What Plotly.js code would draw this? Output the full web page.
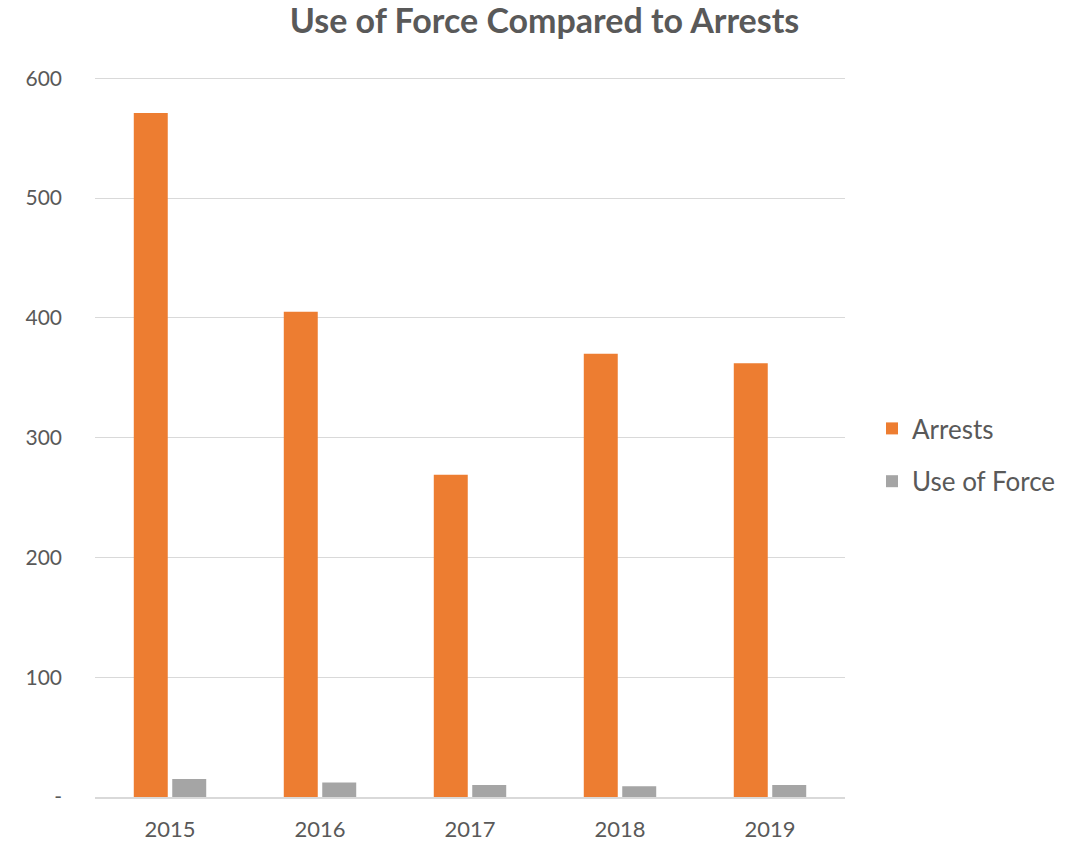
<!DOCTYPE html>
<html>
<head>
<meta charset="utf-8">
<script src="https://cdn.plot.ly/plotly-3.0.1.min.js"></script>
<style>html,body{margin:0;padding:0;background:#fff;}#chart{width:1089px;height:844px;}</style>
</head>
<body>
<div id="chart"></div>
<script>
const years = ['2015', '2016', '2017', '2018', '2019'];
const arrests = [571, 405, 269, 370, 362];
const useOfForce = [15, 12, 10, 9, 10];
const yTickVals = [0, 100, 200, 300, 400, 500, 600];
const yTickText = ['-', '100', '200', '300', '400', '500', '600'];

const font = 'Lato, "Open Sans", sans-serif';
const traces = [
  {type: 'bar', x: years, y: arrests, name: 'Arrests', marker: {color: '#ED7D31'}, legendgroup: 'a', hoverinfo: 'x+y'},
  {type: 'bar', x: years, y: useOfForce, name: 'Use of Force', marker: {color: '#A5A5A5'}, legendgroup: 'b', hoverinfo: 'x+y'}
];
const layout = {
  width: 1089, height: 844,
  margin: {l: 95, r: 244, t: 77, b: 47},
  paper_bgcolor: '#fff', plot_bgcolor: '#fff',
  title: {text: '<b>Use of Force Compared to Arrests</b>', x: 0.5, xanchor: 'center', y: 0.975, yanchor: 'middle',
          font: {family: font, size: 34, color: '#595959'}},
  barmode: 'group', bargap: 0.487, bargroupgap: 0.117,
  xaxis: {type: 'category', showgrid: false, showline: true, linecolor: '#d9d9d9', linewidth: 1.5,
          ticks: '', tickfont: {family: font, size: 22, color: '#595959'}, ticklabelstandoff: 12},
  yaxis: {range: [0, 601], tickvals: yTickVals, ticktext: yTickText, showgrid: true, gridcolor: '#d9d9d9', gridwidth: 1,
          zeroline: false, showline: false, ticks: '', tickfont: {family: font, size: 21, color: '#595959'},
          ticklabelstandoff: 32},
  legend: {x: 1.036, y: 0.475, xanchor: 'left', yanchor: 'middle', font: {family: font, size: 26, color: '#595959'},
           tracegroupgap: 16, traceorder: 'grouped', itemwidth: 30},
  showlegend: true
};
Plotly.newPlot('chart', traces, layout, {displayModeBar: false, staticPlot: true});
</script>
</body>
</html>
